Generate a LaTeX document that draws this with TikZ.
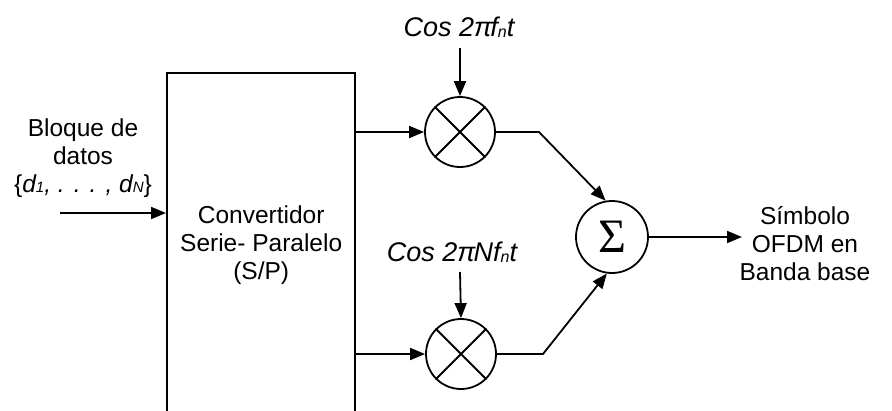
\documentclass[tikz,border=0pt]{standalone}
\usepackage{fontspec}
\setmainfont{Liberation Sans}
\newfontfamily\sigfont{Liberation Serif}
\usetikzlibrary{arrows.meta}
\newcommand\lsub[2]{\raisebox{-0.5pt}{\fontsize{#1}{#1}\selectfont #2}}
\begin{document}
\begin{tikzpicture}[x=1pt,y=-1pt,
  wire/.style={line width=1.8pt},
  arr/.style={wire,-{Triangle[length=15pt,width=12pt]}},
  mixer/.style={circle,draw,line width=1.8pt,minimum size=70pt,inner sep=0pt},
  lbl/.style={font=\fontsize{24.5}{28}\selectfont,align=center,inner sep=0pt},
  cosl/.style={font=\itshape\fontsize{27}{30}\selectfont,inner sep=0pt}]
\useasboundingbox (0,0) rectangle (892,410);
% S/P converter (bottom edge lies below the page)
\node[draw,line width=2.4pt,minimum width=188pt,minimum height=344pt,inner sep=0pt,
      anchor=north west,lbl] (sp) at (166,72)
  {Convertidor\\Serie- Paralelo\\(S/P)};
% mixers and adder
\node[mixer] (m1) at (460,132) {};
\node[mixer] (m2) at (461,354) {};
\draw[wire] (m1.north east) -- (m1.south west) (m1.north west) -- (m1.south east);
\draw[wire] (m2.north east) -- (m2.south west) (m2.north west) -- (m2.south east);
\node[circle,draw,line width=1.8pt,minimum size=72pt,inner sep=0pt] (sum) at (612,237)
  {\sigfont\fontsize{48}{48}\selectfont Σ};
% labels
\node[lbl] (inl) at (83,158) {Bloque de\\datos\\\{\textit{d\lsub{15}{1}, . . . , d\lsub{15}{N}}\}};
\node[lbl] (outl) at (805,244) {Símbolo\\OFDM en\\Banda base};
\node[cosl] (c1) at (459,27) {Cos 2π\kern-2pt f\lsub{16}{n}t};
\node[cosl] (c2) at (452,252) {Cos 2π\kern-2pt Nf\lsub{16}{n}t};
% coordinates
\coordinate (inS) at (60,213);
\coordinate (k1) at (539,132);
\coordinate (k2) at (543,354);
\coordinate (outE) at (742,237);
\coordinate (t1) at (460,48);
\coordinate (t2) at (460,272);
% connectors
\draw[arr] (inS) -- (sp.west |- inS);
\draw[arr] (sp.east |- m1.west) -- (m1.west);
\draw[arr] (sp.east |- m2.west) -- (m2.west);
\draw[arr] (t1) -- (m1.north);
\draw[arr] (t2) -- (m2.north);
\draw[arr] (m1.east) -- (k1) -- (sum.100);
\draw[arr] (m2.east) -- (k2) -- (sum.262);
\draw[arr] (sum.east) -- (outE);
\end{tikzpicture}
\end{document}
